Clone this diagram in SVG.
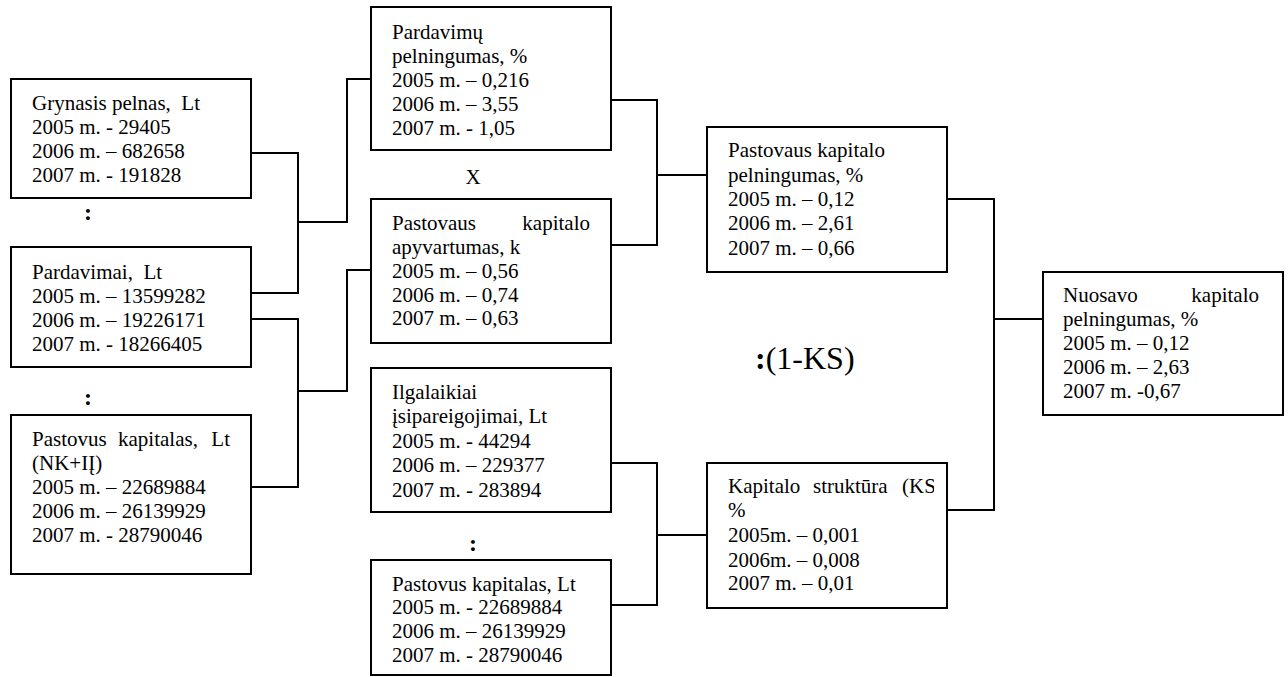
<svg xmlns="http://www.w3.org/2000/svg" width="1288" height="677" viewBox="0 0 1288 677">
<style>
.box{fill:#fff;stroke:#000;stroke-width:2}
.t{font-family:"Liberation Serif","Times New Roman",serif;font-size:21px;fill:#000}
.b{font-weight:bold}
.op{font-size:24px;font-weight:bold}
.c line{stroke:#000;stroke-width:2}
</style>
<defs>
<clipPath id="ksclip"><rect x="708" y="464" width="226" height="143"/></clipPath>
</defs>
<rect width="1288" height="677" fill="#fff"/>
<g class="c" id="connectors">
<line x1="251" y1="153" x2="299" y2="153"/>
<line x1="251" y1="293" x2="299" y2="293"/>
<line x1="298" y1="152" x2="298" y2="294"/>
<line x1="298" y1="222" x2="348" y2="222"/>
<line x1="347" y1="78" x2="347" y2="223"/>
<line x1="346" y1="79" x2="371" y2="79"/>
<line x1="251" y1="319" x2="299" y2="319"/>
<line x1="251" y1="487" x2="299" y2="487"/>
<line x1="298" y1="318" x2="298" y2="488"/>
<line x1="298" y1="391" x2="348" y2="391"/>
<line x1="347" y1="269" x2="347" y2="392"/>
<line x1="346" y1="270" x2="371" y2="270"/>
<line x1="611" y1="100" x2="658" y2="100"/>
<line x1="611" y1="245" x2="658" y2="245"/>
<line x1="657" y1="99" x2="657" y2="246"/>
<line x1="657" y1="175" x2="707" y2="175"/>
<line x1="611" y1="463" x2="658" y2="463"/>
<line x1="611" y1="605" x2="658" y2="605"/>
<line x1="657" y1="462" x2="657" y2="606"/>
<line x1="657" y1="535" x2="707" y2="535"/>
<line x1="947" y1="199" x2="995" y2="199"/>
<line x1="947" y1="510" x2="995" y2="510"/>
<line x1="994" y1="198" x2="994" y2="511"/>
<line x1="994" y1="319" x2="1043" y2="319"/>
</g>
<g id="grynasis">
<rect class="box" x="11" y="79" width="240" height="119"/>
<text class="t" x="32" y="110" xml:space="preserve">Grynasis pelnas,  Lt</text>
<text class="t" x="32" y="134">2005 m. - 29405</text>
<text class="t" x="32" y="158">2006 m. – 682658</text>
<text class="t" x="32" y="182">2007 m. - 191828</text>
</g>
<g id="op1"><text class="t op" x="88" y="220" text-anchor="middle">:</text></g>
<g id="pardavimai">
<rect class="box" x="11" y="247" width="240" height="120"/>
<text class="t" x="32" y="279" xml:space="preserve">Pardavimai,  Lt</text>
<text class="t" x="32" y="303">2005 m. – 13599282</text>
<text class="t" x="32" y="327">2006 m. – 19226171</text>
<text class="t" x="32" y="351">2007 m. - 18266405</text>
</g>
<g id="op2"><text class="t op" x="88" y="405" text-anchor="middle">:</text></g>
<g id="pastovus1">
<rect class="box" x="11" y="415" width="240" height="159"/>
<text class="t" x="32" y="446">Pastovus</text>
<text class="t" x="118" y="446">kapitalas,</text>
<text class="t" x="230" y="446" text-anchor="end">Lt</text>
<text class="t" x="32" y="470">(NK+IĮ)</text>
<text class="t" x="32" y="494">2005 m. – 22689884</text>
<text class="t" x="32" y="518">2006 m. – 26139929</text>
<text class="t" x="32" y="542">2007 m. - 28790046</text>
</g>
<g id="pardavimu_pelningumas">
<rect class="box" x="371" y="7" width="240" height="143"/>
<text class="t" x="392" y="39">Pardavimų</text>
<text class="t" x="392" y="63">pelningumas, %</text>
<text class="t" x="392" y="87">2005 m. – 0,216</text>
<text class="t" x="392" y="111">2006 m. – 3,55</text>
<text class="t" x="392" y="135">2007 m. - 1,05</text>
</g>
<g id="opx"><text class="t" x="473" y="184" text-anchor="middle">X</text></g>
<g id="apyvartumas">
<rect class="box" x="371" y="199" width="240" height="144"/>
<text class="t" x="392" y="230">Pastovaus</text>
<text class="t" x="590" y="230" text-anchor="end">kapitalo</text>
<text class="t" x="392" y="254">apyvartumas, k</text>
<text class="t" x="392" y="278">2005 m. – 0,56</text>
<text class="t" x="392" y="302">2006 m. – 0,74</text>
<text class="t" x="392" y="325">2007 m. – 0,63</text>
</g>
<g id="ilgalaikiai">
<rect class="box" x="371" y="368" width="240" height="144"/>
<text class="t" x="392" y="399">Ilgalaikiai</text>
<text class="t" x="392" y="423">įsipareigojimai, Lt</text>
<text class="t" x="392" y="448">2005 m. - 44294</text>
<text class="t" x="392" y="472">2006 m. – 229377</text>
<text class="t" x="392" y="497">2007 m. - 283894</text>
</g>
<g id="op3"><text class="t op" x="473" y="551" text-anchor="middle">:</text></g>
<g id="pastovus2">
<rect class="box" x="371" y="560" width="240" height="115"/>
<text class="t" x="392" y="591">Pastovus kapitalas, Lt</text>
<text class="t" x="392" y="614">2005 m. - 22689884</text>
<text class="t" x="392" y="638">2006 m. – 26139929</text>
<text class="t" x="392" y="662">2007 m. - 28790046</text>
</g>
<g id="pk_pelningumas">
<rect class="box" x="707" y="127" width="240" height="145"/>
<text class="t" x="728" y="157">Pastovaus kapitalo</text>
<text class="t" x="728" y="182">pelningumas, %</text>
<text class="t" x="728" y="206">2005 m. – 0,12</text>
<text class="t" x="728" y="230">2006 m. – 2,61</text>
<text class="t" x="728" y="255">2007 m. – 0,66</text>
</g>
<g id="opks"><text class="t" x="755" y="369" style="font-size:32px"><tspan class="b">:</tspan>(1-KS)</text></g>
<g id="kapitalo_struktura">
<rect class="box" x="707" y="463" width="240" height="145"/>
<g clip-path="url(#ksclip)">
<text class="t" x="728" y="493">Kapitalo</text>
<text class="t" x="813" y="493">struktūra</text>
<text class="t" x="902" y="493">(KS)</text>
</g>
<text class="t" x="728" y="517">%</text>
<text class="t" x="728" y="542">2005m. – 0,001</text>
<text class="t" x="728" y="567">2006m. – 0,008</text>
<text class="t" x="728" y="590">2007 m. – 0,01</text>
</g>
<g id="nuosavo">
<rect class="box" x="1043" y="272" width="240" height="143"/>
<text class="t" x="1063" y="302">Nuosavo</text>
<text class="t" x="1259" y="302" text-anchor="end">kapitalo</text>
<text class="t" x="1063" y="326">pelningumas, %</text>
<text class="t" x="1063" y="350">2005 m. – 0,12</text>
<text class="t" x="1063" y="374">2006 m. – 2,63</text>
<text class="t" x="1063" y="398">2007 m. -0,67</text>
</g>
</svg>
